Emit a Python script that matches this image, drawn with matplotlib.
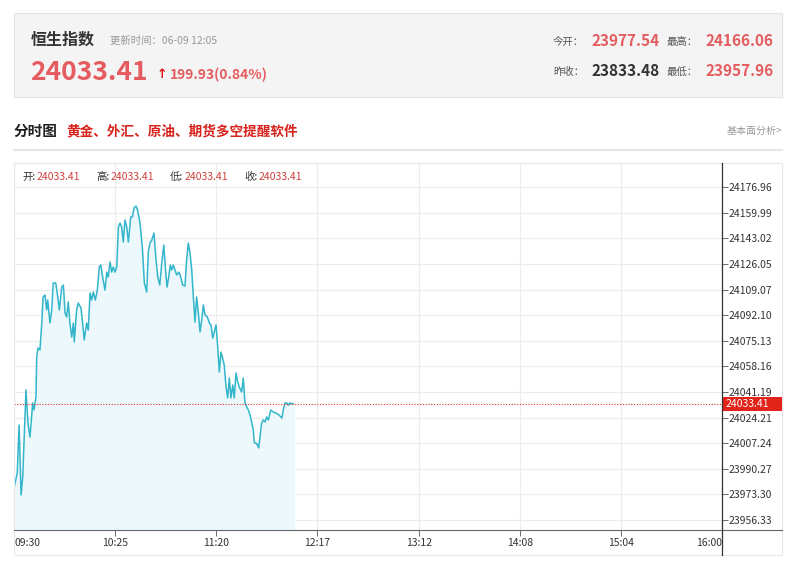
import matplotlib.pyplot as plt
from matplotlib.patches import Rectangle
from matplotlib.lines import Line2D

plt.rcParams['font.family'] = ['Noto Sans CJK SC', 'DejaVu Sans']

# 分时数据：距 09:30 的分钟数, 指数点位
minutes = [0, 1.8, 2.8, 3.9, 4.8, 6.6, 7.7, 8.8, 10.3, 11.0, 12.1, 12.5, 13.2, 14.3,
           15.3, 16.0, 17.1, 18.0, 18.6, 19.8, 20.8, 21.6, 23.0, 24.1, 25.0, 26.3,
           27.2, 28.1, 29.0, 29.9, 30.8, 31.8, 32.7, 33.2, 34.5, 35.4, 36.9, 37.8,
           38.7, 40.0, 40.9, 41.9, 42.8, 43.7, 44.8, 45.9, 47.0, 47.8, 48.9, 50.1,
           51.1, 51.9, 52.9, 53.8, 54.7, 55.6, 56.6, 57.5, 58.4, 59.3, 60.2, 61.1,
           62.1, 63.0, 64.3, 65.2, 66.1, 67.2, 68.1, 69.4, 70.7, 71.8, 73.1, 74.0,
           74.9, 75.9, 77.1, 78.1, 79.2, 80.3, 81.4, 82.5, 83.6, 84.3, 85.2, 86.1,
           86.9, 87.7, 88.7, 89.6, 90.9, 92.0, 92.9, 94.2, 95.1, 96.0, 96.9, 97.9,
           98.8, 99.7, 100.6, 101.5, 102.5, 103.4, 104.3, 105.2, 106.5, 107.6, 108.5,
           109.5, 110.3, 111.3, 112.2, 113.1, 114.0, 114.9, 115.8, 116.8, 117.7,
           118.6, 119.5, 120.5, 121.3, 122.3, 123.2, 124.1, 125.4, 126.3, 127.2,
           128.2, 129.1, 130.0, 130.9, 131.8, 132.4, 133.3, 134.0, 134.8, 135.5,
           136.4, 137.3, 138.3, 139.2, 140.1, 141.4, 142.8, 144.3, 146.0, 147.6,
           148.3, 149.3, 150.2, 151.1, 152.0, 153.0, 153.7]
prices = [23977.5, 23987.5, 24019.3, 23972.9, 23984.8, 24042.5, 24020.6, 24011.3,
          24033.9, 24029.2, 24037.8, 24064.3, 24070.3, 24069.0, 24086.9, 24104.1,
          24105.4, 24095.5, 24102.1, 24086.9, 24095.5, 24113.4, 24113.4, 24104.1,
          24095.5, 24110.7, 24112.0, 24093.5, 24090.9, 24100.8, 24086.9, 24077.6,
          24086.9, 24074.3, 24095.5, 24100.1, 24096.8, 24086.9, 24075.6, 24086.9,
          24082.2, 24106.8, 24102.1, 24107.4, 24102.1, 24108.7, 24124.0, 24125.3,
          24116.7, 24108.7, 24120.6, 24117.3, 24127.3, 24120.6, 24124.0, 24120.6,
          24124.0, 24150.5, 24153.1, 24150.5, 24140.5, 24155.1, 24150.5, 24140.5,
          24157.1, 24157.1, 24163.0, 24164.4, 24161.7, 24153.1, 24137.2, 24113.4,
          24107.4, 24133.9, 24139.9, 24141.8, 24146.5, 24130.6, 24117.3, 24112.0,
          24126.6, 24138.5, 24120.0, 24110.7, 24117.3, 24125.3, 24122.0, 24125.3,
          24122.0, 24118.7, 24120.6, 24116.7, 24112.0, 24111.4, 24128.6, 24139.9,
          24133.9, 24122.0, 24104.1, 24087.5, 24104.1, 24094.1, 24080.9, 24088.8,
          24098.8, 24092.2, 24090.9, 24086.9, 24085.5, 24076.9, 24080.9, 24085.5,
          24071.0, 24054.4, 24067.6, 24063.7, 24059.0, 24044.5, 24037.2, 24050.4,
          24037.2, 24045.8, 24037.2, 24053.7, 24047.8, 24044.5, 24041.1, 24050.4,
          24033.9, 24031.2, 24029.2, 24025.9, 24021.3, 24016.0, 24007.4, 24007.4,
          24006.1, 24004.1, 24011.3, 24020.6, 24022.6, 24021.3, 24024.6, 24022.6,
          24029.2, 24027.9, 24027.2, 24025.9, 24023.9, 24029.2, 24033.9, 24033.9,
          24032.5, 24033.9, 24033.4, 24033.41]

last_price = 24033.41
y_ticks = [24176.96, 24159.99, 24143.02, 24126.05, 24109.07, 24092.10, 24075.13,
           24058.16, 24041.19, 24024.21, 24007.24, 23990.27, 23973.30, 23956.33]
x_ticks = [0, 55.7, 111.4, 167.1, 222.9, 278.6, 334.3, 390]
x_labels = ['09:30', '10:25', '11:20', '12:17', '13:12', '14:08', '15:04', '16:00']

W, H = 800, 587
RED = '#e45c5f'


def fx(px):
    return px / W


def fy(py):
    return 1 - py / H


fig = plt.figure(figsize=(8, 5.87), dpi=100)
fig.patch.set_facecolor('white')

# 顶部行情框
fig.add_artist(Rectangle((fx(14), fy(97)), fx(768), 84 / H, transform=fig.transFigure,
                         facecolor='#f4f4f4', edgecolor='#e4e4e4', lw=0.8))
fig.text(fx(31), fy(40), '恒生指数', fontsize=11.5, fontweight='bold', color='#333333', va='center')
fig.text(fx(110), fy(41), '更新时间：06-09 12:05', fontsize=7.5, color='#999999', va='center')
fig.text(fx(30), fy(72), '24033.41', fontsize=19, fontweight='bold', color=RED, va='center')
fig.text(fx(157), fy(75), '↑', fontsize=9, fontweight='bold', color='#e0101a', va='center',
         family='DejaVu Sans')
fig.text(fx(170), fy(75), '199.93(0.84%)', fontsize=10, fontweight='bold', color=RED, va='center')

fig.text(fx(553), fy(42), '今开：', fontsize=7.5, color='#555555', va='center')
fig.text(fx(592), fy(41), '23977.54', fontsize=11, fontweight='bold', color=RED, va='center')
fig.text(fx(667), fy(42), '最高：', fontsize=7.5, color='#555555', va='center')
fig.text(fx(706), fy(41), '24166.06', fontsize=11, fontweight='bold', color=RED, va='center')
fig.text(fx(553), fy(72), '昨收：', fontsize=7.5, color='#555555', va='center')
fig.text(fx(592), fy(71), '23833.48', fontsize=11, fontweight='bold', color='#333333', va='center')
fig.text(fx(667), fy(72), '最低：', fontsize=7.5, color='#555555', va='center')
fig.text(fx(706), fy(71), '23957.96', fontsize=11, fontweight='bold', color=RED, va='center')

# 分时图标题
fig.text(fx(14), fy(131), '分时图', fontsize=10.5, fontweight='bold', color='#222222', va='center')
fig.text(fx(66), fy(131), '黄金、外汇、原油、期货多空提醒软件', fontsize=9.8, fontweight='bold',
         color='#d8231c', va='center')
fig.text(fx(782), fy(131), '基本面分析>', fontsize=7.2, color='#999999', va='center', ha='right')
fig.add_artist(Line2D([fx(14), fx(782)], [fy(150), fy(150)], color='#e6e6e6', lw=1.5))

# 图表外框
fig.add_artist(Rectangle((fx(14), fy(555)), fx(768), 392 / H, transform=fig.transFigure,
                         facecolor='none', edgecolor='#e8e8e8', lw=0.8))

ax = fig.add_axes([fx(14), fy(530), fx(708), 367 / H])
ax.set_xlim(0, 390)
ax.set_ylim(23949.7, 24192.9)
for s in ax.spines.values():
    s.set_visible(False)

ax.fill_between(minutes, prices, 23949.7, color='#ecf8fc', lw=0)
ax.fill_between([minutes[-1], 154.6], last_price, 23949.7, color='#ecf8fc', lw=0)
ax.plot(minutes, prices, color='#33b6cb', lw=1.1)
ax.axhline(last_price, color='#e0302a', lw=0.8, ls=(0, (1, 1.5)))

ax.set_yticks(y_ticks)
ax.set_yticklabels(['%.2f' % v for v in y_ticks])
ax.yaxis.tick_right()
ax.set_xticks(x_ticks)
ax.set_xticklabels(x_labels)
ax.tick_params(axis='y', direction='out', length=4, width=0.6, color='#555555',
               labelsize=7.5, labelcolor='#333333', pad=1)
ax.tick_params(axis='x', direction='out', length=4, width=0.6, color='#555555',
               labelsize=7.5, labelcolor='#333333', pad=2)
labels = ax.get_xticklabels()
labels[0].set_ha('left')
labels[-1].set_ha('right')
ax.grid(True, color='#ececec', lw=0.8)
ax.set_axisbelow(True)

# 坐标轴线
fig.add_artist(Line2D([fx(14), fx(782)], [fy(530), fy(530)], color='#666666', lw=0.8))
fig.add_artist(Line2D([fx(722), fx(722)], [fy(163), fy(555)], color='#333333', lw=0.9))

# 最新价标签
fig.add_artist(Rectangle((fx(722), fy(411)), fx(60), 14 / H, transform=fig.transFigure,
                         facecolor='#e2231a', edgecolor='none'))
fig.text(fx(726), fy(404), '%.2f' % last_price, fontsize=7.5, color='white', va='center')

# 开高低收
hx = 22
for name, val in [('开:', '24033.41'), ('高:', '24033.41'), ('低:', '24033.41'), ('收:', '24033.41')]:
    fig.text(fx(hx), fy(177), name, fontsize=7.5, color='#333333', va='center')
    fig.text(fx(hx + 15), fy(177), val, fontsize=7.5, color='#d0403a', va='center')
    hx += 74

fig.savefig('out.png', dpi=100)
